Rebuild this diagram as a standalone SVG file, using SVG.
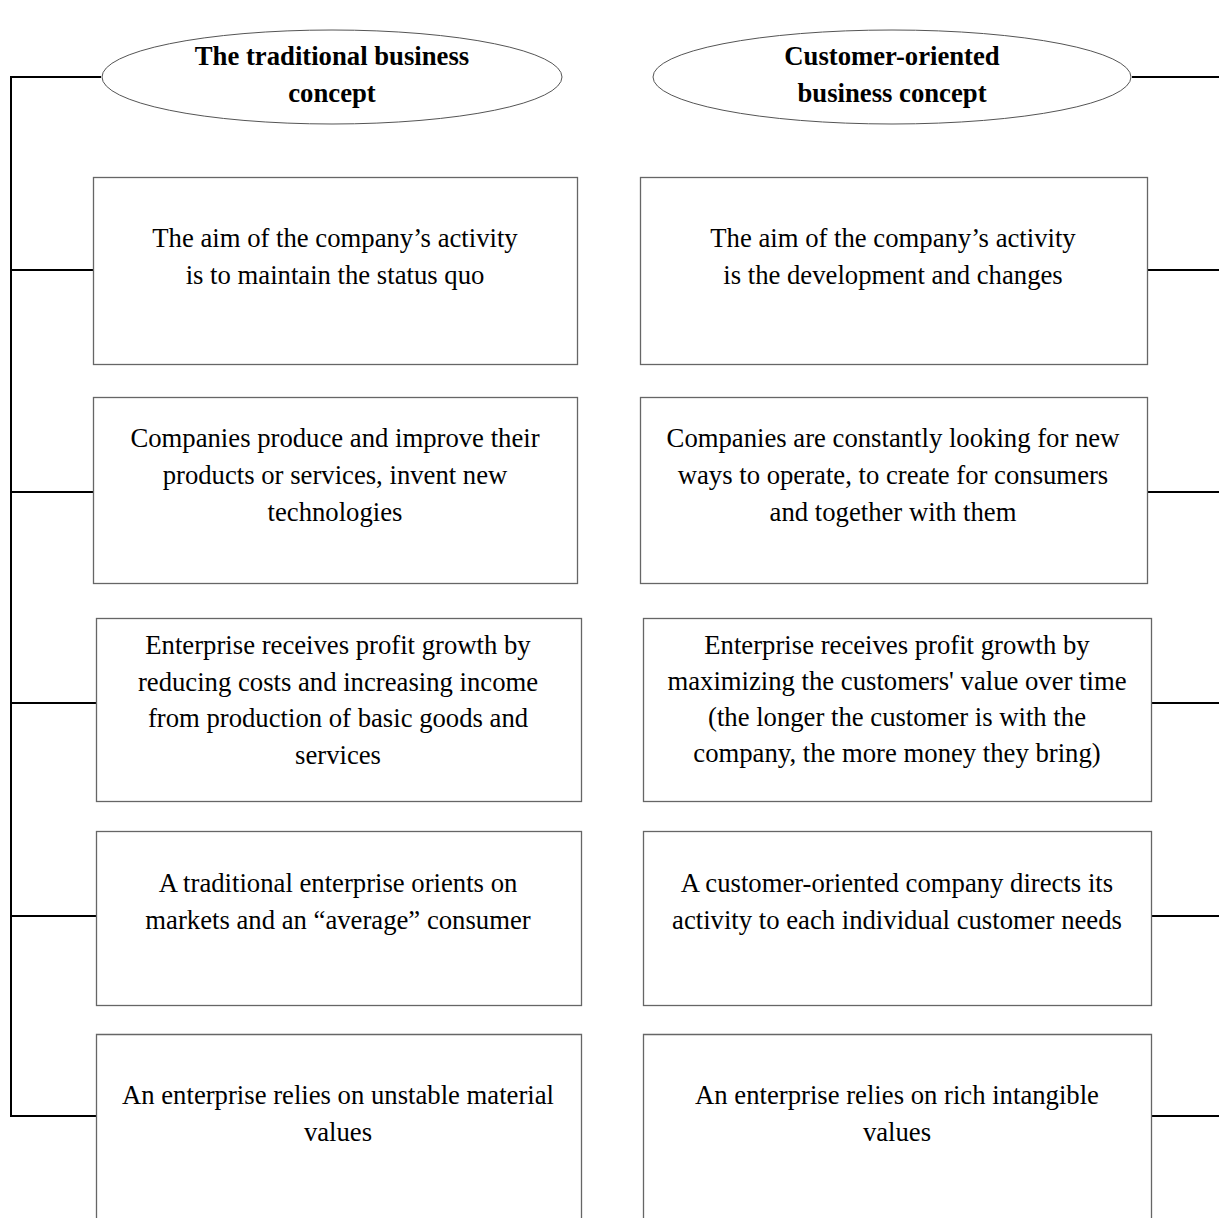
<svg xmlns="http://www.w3.org/2000/svg" width="1219" height="1218" viewBox="0 0 1219 1218">
<style>
.bg{fill:#ffffff}
.box{fill:#ffffff;stroke:#666666;stroke-width:1.3}
.ell{fill:#ffffff;stroke:#555555;stroke-width:1}
.t{font-family:'Liberation Serif','Times New Roman',serif;font-size:26.7px;fill:#000000;text-anchor:middle}
.b{font-weight:bold}
.c{fill:none;stroke:#000000;stroke-width:2}
</style>
<rect class="bg" x="0" y="0" width="1219" height="1218"/>
<g id="connectors">
<polyline class="c" points="101,77 11,77 11,1116 96,1116"/>
<line class="c" x1="11" y1="270" x2="93" y2="270"/>
<line class="c" x1="11" y1="492" x2="93" y2="492"/>
<line class="c" x1="11" y1="703" x2="96" y2="703"/>
<line class="c" x1="11" y1="916" x2="96" y2="916"/>
<line class="c" x1="1132" y1="77" x2="1219" y2="77"/>
<line class="c" x1="1148" y1="270" x2="1219" y2="270"/>
<line class="c" x1="1148" y1="492" x2="1219" y2="492"/>
<line class="c" x1="1151" y1="703" x2="1219" y2="703"/>
<line class="c" x1="1151" y1="916" x2="1219" y2="916"/>
<line class="c" x1="1151" y1="1116" x2="1219" y2="1116"/>
</g>
<g id="title-left">
<ellipse class="ell" cx="332" cy="77" rx="230" ry="47"/>
<text class="t b" x="332" y="65">The traditional business</text>
<text class="t b" x="332" y="102">concept</text>
</g>
<g id="title-right">
<ellipse class="ell" cx="892" cy="77" rx="239" ry="47"/>
<text class="t b" x="892" y="65">Customer-oriented</text>
<text class="t b" x="892" y="102">business concept</text>
</g>
<g id="left-1">
<rect class="box" x="93.5" y="177.5" width="484" height="187"/>
<text class="t" x="335" y="247">The aim of the company’s activity</text>
<text class="t" x="335" y="284">is to maintain the status quo</text>
</g>
<g id="left-2">
<rect class="box" x="93.5" y="397.5" width="484" height="186"/>
<text class="t" x="335" y="447">Companies produce and improve their</text>
<text class="t" x="335" y="484">products or services, invent new</text>
<text class="t" x="335" y="521">technologies</text>
</g>
<g id="left-3">
<rect class="box" x="96.5" y="618.5" width="485" height="183"/>
<text class="t" x="338" y="654">Enterprise receives profit growth by</text>
<text class="t" x="338" y="691">reducing costs and increasing income</text>
<text class="t" x="338" y="727">from production of basic goods and</text>
<text class="t" x="338" y="764">services</text>
</g>
<g id="left-4">
<rect class="box" x="96.5" y="831.5" width="485" height="174"/>
<text class="t" x="338" y="892">A traditional enterprise orients on</text>
<text class="t" x="338" y="929">markets and an “average” consumer</text>
</g>
<g id="left-5">
<path class="box" d="M96.5,1219 V1034.5 H581.5 V1219"/>
<text class="t" x="338" y="1104">An enterprise relies on unstable material</text>
<text class="t" x="338" y="1141">values</text>
</g>
<g id="right-1">
<rect class="box" x="640.5" y="177.5" width="507" height="187"/>
<text class="t" x="893" y="247">The aim of the company’s activity</text>
<text class="t" x="893" y="284">is the development and changes</text>
</g>
<g id="right-2">
<rect class="box" x="640.5" y="397.5" width="507" height="186"/>
<text class="t" x="893" y="447">Companies are constantly looking for new</text>
<text class="t" x="893" y="484">ways to operate, to create for consumers</text>
<text class="t" x="893" y="521">and together with them</text>
</g>
<g id="right-3">
<rect class="box" x="643.5" y="618.5" width="508" height="183"/>
<text class="t" x="897" y="654">Enterprise receives profit growth by</text>
<text class="t" x="897" y="690">maximizing the customers' value over time</text>
<text class="t" x="897" y="726">(the longer the customer is with the</text>
<text class="t" x="897" y="762">company, the more money they bring)</text>
</g>
<g id="right-4">
<rect class="box" x="643.5" y="831.5" width="508" height="174"/>
<text class="t" x="897" y="892">A customer-oriented company directs its</text>
<text class="t" x="897" y="929">activity to each individual customer needs</text>
</g>
<g id="right-5">
<path class="box" d="M643.5,1219 V1034.5 H1151.5 V1219"/>
<text class="t" x="897" y="1104">An enterprise relies on rich intangible</text>
<text class="t" x="897" y="1141">values</text>
</g>
</svg>
